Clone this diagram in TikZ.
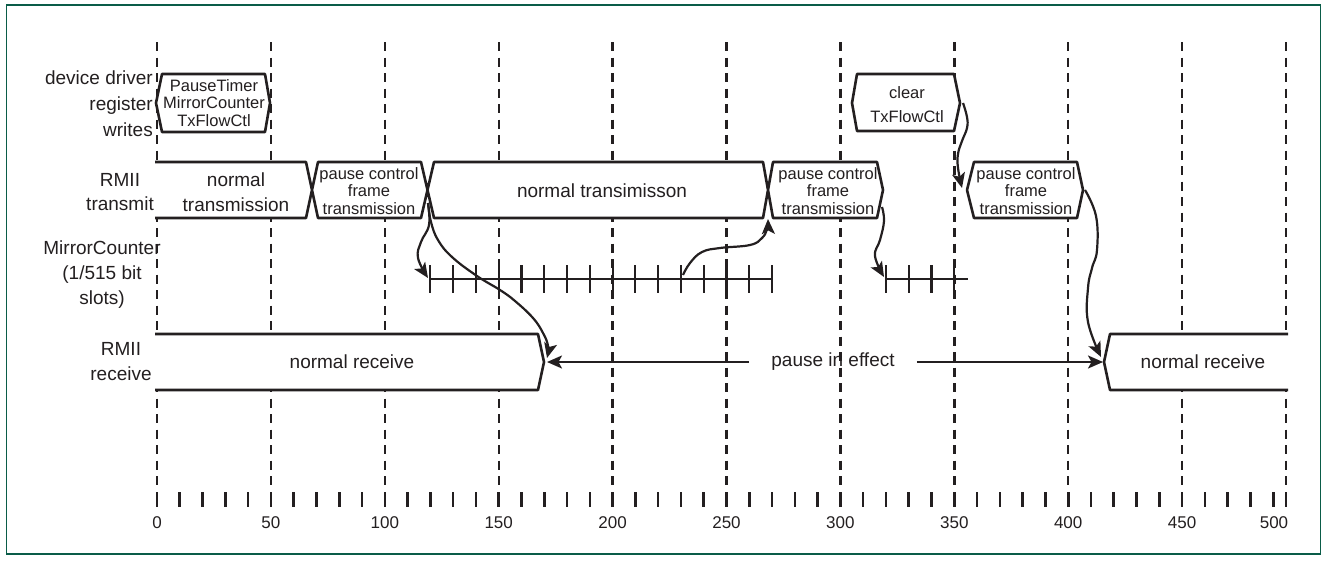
\documentclass[tikz,border=0pt]{standalone}
\usepackage{fontspec}
\setmainfont{Liberation Sans}
\usetikzlibrary{arrows.meta}
\definecolor{ink}{HTML}{231F20}
\definecolor{framegreen}{HTML}{0A5C48}
\begin{document}
\begin{tikzpicture}[x=1pt,y=-1pt,
  inkline/.style={draw=ink,line width=2.6pt,line join=round},
  hexbox/.style={inkline,fill=white},
  gridline/.style={draw=ink,line width=2.4pt,dash pattern=on 9pt off 6.5pt},
  conn/.style={draw=ink,line width=2.2pt,line join=round,-{Stealth[length=15pt,width=13pt,inset=3.5pt]}},
  lab/.style={text=ink,inner sep=0pt,align=center,font=\fontsize{19}{25}\selectfont},
  small/.style={text=ink,inner sep=0pt,align=center,font=\fontsize{16.5}{17.5}\selectfont},
  num/.style={text=ink,inner sep=0pt,font=\fontsize{17}{20}\selectfont},
  tick/.style={draw=ink,line width=2.6pt},
  mtick/.style={draw=ink,line width=2.2pt},
  maxis/.style={draw=ink,line width=1.9pt}
]
\useasboundingbox (0,0) rectangle (1327,560);
\draw[framegreen,line width=1.5pt] (6.5,5) rectangle (1320.5,554);

% dashed time grid
\foreach \t in {0,50,...,450} \draw[gridline] ({157+2.278*\t},42) -- ({157+2.278*\t},487);
\draw[gridline] (1286,42) -- (1286,487);

% bottom ruler
\foreach \t in {0,10,...,490} \draw[tick] ({157+2.278*\t},492) -- ++(0,15);
\draw[tick] (1286,492) -- ++(0,15);
\foreach \t in {0,50,...,450} \node[num] (lbl\t) at ({157+2.278*\t},523) {\t};
\node[num] (lbl500) at (1274,523) {500};

% device driver writes
\path[hexbox] (156,103) -- (162,74) -- (265,74) -- (270,103) -- (265,132) -- (162,132) -- cycle;
\node[small] (dd1) at (214,103) {PauseTimer\\MirrorCounter\\TxFlowCtl};
\path[hexbox] (852,103) -- (857,74) -- (954,74) -- (960,103) -- (954,131) -- (857,131) -- cycle;
\node[small,font=\fontsize{16.5}{24}\selectfont] (dd2) at (907,105) {clear\\TxFlowCtl};

% RMII transmit
\fill[white] (155,162) rectangle (877,218);
\fill[white] (877,162) -- (883,190) -- (877,218) -- cycle;
\draw[inkline] (155,162) -- (306,162) -- (318,218) -- (421,218) -- (434,162) -- (763,162) -- (773,218) -- (877,218) -- (883,190) -- (877,162) -- (773,162) -- (763,218) -- (434,218) -- (421,162) -- (318,162) -- (306,218) -- (155,218);
\path[hexbox] (967,190) -- (974,162) -- (1077,162) -- (1083,190) -- (1077,218) -- (974,218) -- cycle;
\node[lab] (t1) at (236,192) {normal\\transmission};
\node[small] (t2) at (369,191) {pause control\\frame\\transmission};
\node[lab] (t3) at (602,191) {normal transimisson};
\node[small] (t4) at (828,191) {pause control\\frame\\transmission};
\node[small] (t5) at (1026,191) {pause control\\frame\\transmission};

% MirrorCounter
\draw[maxis] ({157+2.278*120},279) -- ({157+2.278*270},279);
\foreach \t in {120,130,...,270} \draw[mtick] ({157+2.278*\t},265) -- ++(0,28);
\draw[maxis] ({157+2.278*320},279) -- (968,279);
\foreach \t in {320,330,340,350} \draw[mtick] ({157+2.278*\t},265) -- ++(0,28);

% RMII receive
\fill[white] (155,334) -- (538,334) -- (544,362) -- (538,390) -- (155,390) -- cycle;
\draw[inkline] (155,334) -- (538,334) -- (544,362) -- (538,390) -- (155,390);
\fill[white] (1288,334) -- (1110,334) -- (1104,362) -- (1110,390) -- (1288,390) -- cycle;
\draw[inkline] (1288,334) -- (1110,334) -- (1104,362) -- (1110,390) -- (1288,390);
\node[lab] (r1t) at (352,362) {normal receive};
\node[lab] (r2t) at (1203,362) {normal receive};

% left labels
\node[lab,align=right,anchor=east,font=\fontsize{19}{26}\selectfont] (ddl) at (153,104) {device driver\\register\\writes};
\node[lab,font=\fontsize{19}{24}\selectfont] (txl) at (120,192) {RMII\\transmit};
\node[lab] (mcl) at (102,275) {MirrorCounter\\(1/515 bit\\slots)};
\node[lab] (rxl) at (121,362) {RMII\\receive};

% connector end points
\coordinate (x2) at (428,203);
\coordinate (m1) at (428,278);
\coordinate (r1) at (547,358);
\coordinate (r1p) at (547,362);
\coordinate (mt) at (683,275);
\coordinate (x3) at (768,219);
\coordinate (p2) at (882,207);
\coordinate (m2) at (884,277);
\coordinate (cl) at (963,103);
\coordinate (p3l) at (962,188);
\coordinate (p3r) at (1085,190);
\coordinate (r2) at (1101,357);
\coordinate (r2p) at (1103,362);

% pause in effect
\node[lab,inner xsep=22pt] (pie) at (833,362) {pause in effect};
\draw[conn] (pie.west) -- (r1p);
\draw[conn] (pie.east) -- (r2p);

% curved connectors
\draw[conn] plot[smooth,tension=0.7] coordinates {(x2) (429,225) (421,242) (418,258) (m1)};
\draw[conn] plot[smooth,tension=0.7] coordinates {(x2) (431,222) (438,240) (452,257) (477,276) (500,290) (515,301) (533,318) (543,333) (548,346) (r1)};
\draw[conn] plot[smooth,tension=0.7] coordinates {(mt) (690,263) (702,252) (720,248) (750,245) (762,238) (767,229) (x3)};
\draw[conn] plot[smooth,tension=0.7] coordinates {(p2) (884,221) (880,240) (875,256) (m2)};
\draw[conn] plot[smooth,tension=0.7] coordinates {(cl) (967,117) (967,128) (962,141) (958,154) (958,168) (p3l)};
\draw[conn] plot[smooth,tension=0.7] coordinates {(p3r) (1096,216) (1097,250) (1092,268) (1088,288) (1088,322) (r2)};
\end{tikzpicture}
\end{document}
